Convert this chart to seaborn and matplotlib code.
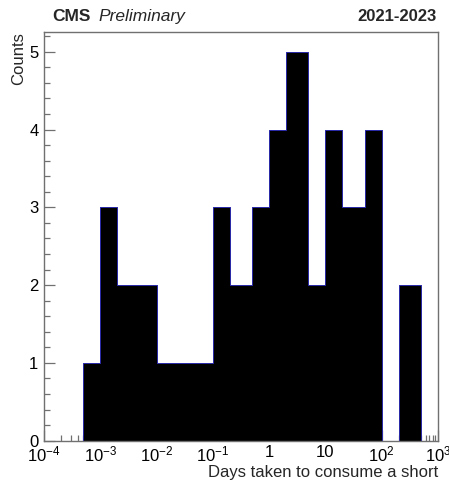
import numpy as np
import pandas as pd
import matplotlib
matplotlib.use("Agg")
import matplotlib.pyplot as plt
import matplotlib.ticker as mticker
import seaborn as sns

# Data (bin edges 1-2-5 per decade)
bin_edges = [5e-4, 1e-3, 2e-3, 5e-3, 1e-2, 2e-2, 5e-2, 1e-1, 2e-1, 5e-1,
             1, 2, 5, 10, 20, 50, 100, 200, 500]
counts = [1, 3, 2, 2, 1, 1, 1, 3, 2, 3, 4, 5, 2, 4, 3, 4, 0, 2]
x_tick_values = [1e-4, 1e-3, 1e-2, 1e-1, 1, 10, 1e2, 1e3]
x_tick_labels = [r"$10^{-4}$", r"$10^{-3}$", r"$10^{-2}$", r"$10^{-1}$",
                 "1", "10", r"$10^{2}$", r"$10^{3}$"]
y_ticks = [0, 1, 2, 3, 4, 5]

sns.set_style("ticks")
plt.rcParams["font.family"] = ["Liberation Sans", "DejaVu Sans"]
plt.rcParams["mathtext.fontset"] = "custom"
plt.rcParams["mathtext.rm"] = "Liberation Sans"
plt.rcParams["mathtext.it"] = "Liberation Sans:italic"
plt.rcParams["mathtext.bf"] = "Liberation Sans:bold"

edges = np.array(bin_edges)
df = pd.DataFrame({"days": np.sqrt(edges[:-1] * edges[1:]),
                   "count": np.array(counts, dtype=float)})
log_bins = [float(v) for v in np.log10(edges)]

fig = plt.figure(figsize=(4.49, 4.84), dpi=100)
ax = fig.add_axes([44 / 449, 1 - 440.7 / 484, (438 - 44) / 449, (440.7 - 32.3) / 484])

sns.histplot(data=df, x="days", weights="count", bins=log_bins, log_scale=10,
             element="step", fill=True,
             color="black", edgecolor="#2828a8", linewidth=0.7, alpha=1.0,
             ax=ax)

ax.set_xlim(1e-4, 1e3)
ax.set_ylim(0, 5.25)

gray = "#707070"
for s in ax.spines.values():
    s.set_visible(True)
    s.set_color(gray)
    s.set_linewidth(1.0)
    s.set_zorder(5)

ax.xaxis.set_major_locator(mticker.FixedLocator(x_tick_values))
ax.xaxis.set_major_formatter(mticker.FixedFormatter(x_tick_labels))
ax.xaxis.set_minor_locator(mticker.LogLocator(base=10, subs=np.arange(2, 10), numticks=20))
ax.xaxis.set_minor_formatter(mticker.NullFormatter())
ax.set_yticks(y_ticks)
ax.yaxis.set_minor_locator(mticker.MultipleLocator(0.2))

ax.tick_params(axis="both", which="major", direction="in", length=8, width=0.9,
               color=gray, labelsize=12, labelcolor="black")
ax.tick_params(axis="both", which="minor", direction="in", length=4, width=0.9,
               color=gray)
ax.tick_params(axis="x", which="major", pad=3)
ax.tick_params(axis="y", which="major", pad=4)
ax.tick_params(top=False, right=False, which="both")

ax.set_xlabel("Days taken to consume a short", loc="right", fontsize=12, labelpad=0)
ax.set_ylabel("Counts", loc="top", fontsize=12, labelpad=2)
ax.grid(False)

fig.text(52 / 449, 1 - 21 / 484, "CMS", fontsize=12.5, fontweight="bold",
         ha="left", va="baseline")
fig.text(98 / 449, 1 - 21 / 484, "Preliminary", fontsize=12.5, fontstyle="italic",
         ha="left", va="baseline")
fig.text(437 / 449, 1 - 21 / 484, "2021-2023", fontsize=12, fontweight="bold",
         ha="right", va="baseline")

fig.savefig("out.png", dpi=100, facecolor="white")
